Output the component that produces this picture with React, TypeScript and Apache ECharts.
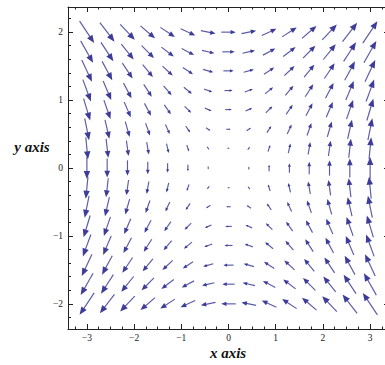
import React, { useEffect, useRef } from "react";
import * as echarts from "echarts";

// grid positions (VectorPoints 15 x 15)
const xs = [-3, -2.57, -2.14, -1.71, -1.29, -0.86, -0.43, 0, 0.43, 0.86, 1.29, 1.71, 2.14, 2.57, 3];
const ys = [-2, -1.71, -1.43, -1.14, -0.86, -0.57, -0.29, 0, 0.29, 0.57, 0.86, 1.14, 1.43, 1.71, 2];

// horizontal component of each arrow, rows from y=-2 (bottom) to y=2 (top)
const U = [
  [-2, -2, -2, -2, -2, -2, -2, -2, -2, -2, -2, -2, -2, -2, -2],
  [-1.7, -1.7, -1.7, -1.7, -1.7, -1.7, -1.7, -1.7, -1.7, -1.7, -1.7, -1.7, -1.7, -1.7, -1.7],
  [-1.4, -1.4, -1.4, -1.4, -1.4, -1.4, -1.4, -1.4, -1.4, -1.4, -1.4, -1.4, -1.4, -1.4, -1.4],
  [-1.1, -1.1, -1.1, -1.1, -1.1, -1.1, -1.1, -1.1, -1.1, -1.1, -1.1, -1.1, -1.1, -1.1, -1.1],
  [-0.9, -0.9, -0.9, -0.9, -0.9, -0.9, -0.9, -0.9, -0.9, -0.9, -0.9, -0.9, -0.9, -0.9, -0.9],
  [-0.6, -0.6, -0.6, -0.6, -0.6, -0.6, -0.6, -0.6, -0.6, -0.6, -0.6, -0.6, -0.6, -0.6, -0.6],
  [-0.3, -0.3, -0.3, -0.3, -0.3, -0.3, -0.3, -0.3, -0.3, -0.3, -0.3, -0.3, -0.3, -0.3, -0.3],
  [0, 0, 0, 0, 0, 0, 0, 0, 0, 0, 0, 0, 0, 0, 0],
  [0.3, 0.3, 0.3, 0.3, 0.3, 0.3, 0.3, 0.3, 0.3, 0.3, 0.3, 0.3, 0.3, 0.3, 0.3],
  [0.6, 0.6, 0.6, 0.6, 0.6, 0.6, 0.6, 0.6, 0.6, 0.6, 0.6, 0.6, 0.6, 0.6, 0.6],
  [0.9, 0.9, 0.9, 0.9, 0.9, 0.9, 0.9, 0.9, 0.9, 0.9, 0.9, 0.9, 0.9, 0.9, 0.9],
  [1.1, 1.1, 1.1, 1.1, 1.1, 1.1, 1.1, 1.1, 1.1, 1.1, 1.1, 1.1, 1.1, 1.1, 1.1],
  [1.4, 1.4, 1.4, 1.4, 1.4, 1.4, 1.4, 1.4, 1.4, 1.4, 1.4, 1.4, 1.4, 1.4, 1.4],
  [1.7, 1.7, 1.7, 1.7, 1.7, 1.7, 1.7, 1.7, 1.7, 1.7, 1.7, 1.7, 1.7, 1.7, 1.7],
  [2, 2, 2, 2, 2, 2, 2, 2, 2, 2, 2, 2, 2, 2, 2],
];

// vertical component of each arrow, same row order
const V = [
  [-3, -2.6, -2.1, -1.7, -1.3, -0.9, -0.4, 0, 0.4, 0.9, 1.3, 1.7, 2.1, 2.6, 3],
  [-3, -2.6, -2.1, -1.7, -1.3, -0.9, -0.4, 0, 0.4, 0.9, 1.3, 1.7, 2.1, 2.6, 3],
  [-3, -2.6, -2.1, -1.7, -1.3, -0.9, -0.4, 0, 0.4, 0.9, 1.3, 1.7, 2.1, 2.6, 3],
  [-3, -2.6, -2.1, -1.7, -1.3, -0.9, -0.4, 0, 0.4, 0.9, 1.3, 1.7, 2.1, 2.6, 3],
  [-3, -2.6, -2.1, -1.7, -1.3, -0.9, -0.4, 0, 0.4, 0.9, 1.3, 1.7, 2.1, 2.6, 3],
  [-3, -2.6, -2.1, -1.7, -1.3, -0.9, -0.4, 0, 0.4, 0.9, 1.3, 1.7, 2.1, 2.6, 3],
  [-3, -2.6, -2.1, -1.7, -1.3, -0.9, -0.4, 0, 0.4, 0.9, 1.3, 1.7, 2.1, 2.6, 3],
  [-3, -2.6, -2.1, -1.7, -1.3, -0.9, -0.4, 0, 0.4, 0.9, 1.3, 1.7, 2.1, 2.6, 3],
  [-3, -2.6, -2.1, -1.7, -1.3, -0.9, -0.4, 0, 0.4, 0.9, 1.3, 1.7, 2.1, 2.6, 3],
  [-3, -2.6, -2.1, -1.7, -1.3, -0.9, -0.4, 0, 0.4, 0.9, 1.3, 1.7, 2.1, 2.6, 3],
  [-3, -2.6, -2.1, -1.7, -1.3, -0.9, -0.4, 0, 0.4, 0.9, 1.3, 1.7, 2.1, 2.6, 3],
  [-3, -2.6, -2.1, -1.7, -1.3, -0.9, -0.4, 0, 0.4, 0.9, 1.3, 1.7, 2.1, 2.6, 3],
  [-3, -2.6, -2.1, -1.7, -1.3, -0.9, -0.4, 0, 0.4, 0.9, 1.3, 1.7, 2.1, 2.6, 3],
  [-3, -2.6, -2.1, -1.7, -1.3, -0.9, -0.4, 0, 0.4, 0.9, 1.3, 1.7, 2.1, 2.6, 3],
  [-3, -2.6, -2.1, -1.7, -1.3, -0.9, -0.4, 0, 0.4, 0.9, 1.3, 1.7, 2.1, 2.6, 3],
];

// tick values
const xMajor = [-3, -2, -1, 0, 1, 2, 3];
const xMinor = [-3.25, -2.75, -2.5, -2.25, -1.75, -1.5, -1.25, -0.75, -0.5, -0.25, 0.25, 0.5, 0.75, 1.25, 1.5, 1.75, 2.25, 2.5, 2.75, 3.25];
const yMajor = [-2, -1, 0, 1, 2];
const yMinor = [-2.2, -1.8, -1.6, -1.4, -1.2, -0.8, -0.6, -0.4, -0.2, 0.2, 0.4, 0.6, 0.8, 1.2, 1.4, 1.6, 1.8, 2.2];

const xLabel = "x axis";
const yLabel = "y axis";

export default function App() {
  const ref = useRef<HTMLDivElement>(null);

  useEffect(() => {
    if (!ref.current) return;
    const chart = echarts.init(ref.current, null, { renderer: "svg" });

    const data: number[][] = [];
    for (let j = 0; j < ys.length; j++) {
      for (let i = 0; i < xs.length; i++) {
        data.push([xs[i], ys[j], U[j][i], V[j][i]]);
      }
    }

    const frameColor = "#222";
    const fmt = (v: number) => String(v).replace("-", "\u2212");
    const labelStyle = { fontSize: 9.5, color: "#222", fontFamily: "Liberation Serif" };

    const xAx = (pos: string, ticks: number[], len: number, labels: boolean, line: boolean) => ({
      type: "value",
      min: -3.4,
      max: 3.4,
      position: pos,
      axisLine: { show: line, onZero: false, lineStyle: { color: frameColor, width: 1 } },
      axisTick: { show: true, inside: true, length: len, customValues: ticks, lineStyle: { color: frameColor, width: 1 } },
      axisLabel: labels
        ? { show: true, customValues: xMajor, formatter: fmt, margin: 4, ...labelStyle }
        : { show: false },
      splitLine: { show: false },
    });
    const yAx = (pos: string, ticks: number[], len: number, labels: boolean, line: boolean) => ({
      type: "value",
      min: -2.37,
      max: 2.37,
      position: pos,
      axisLine: { show: line, onZero: false, lineStyle: { color: frameColor, width: 1 } },
      axisTick: { show: true, inside: true, length: len, customValues: ticks, lineStyle: { color: frameColor, width: 1 } },
      axisLabel: labels
        ? { show: true, customValues: yMajor, formatter: fmt, margin: 5, ...labelStyle }
        : { show: false },
      splitLine: { show: false },
    });

    const K = 7.3; // px per unit of vector magnitude
    const arrowColor = "#3d3d99";

    chart.setOption({
      animation: false,
      backgroundColor: "#ffffff",
      grid: { left: 68, top: 7, width: 321, height: 322, containLabel: false },
      xAxis: [
        xAx("bottom", xMajor, 5, true, true),
        xAx("bottom", xMinor, 2.5, false, false),
        xAx("top", xMajor, 5, false, true),
        xAx("top", xMinor, 2.5, false, false),
      ],
      yAxis: [
        yAx("left", yMajor, 5, true, true),
        yAx("left", yMinor, 3, false, false),
        yAx("right", yMajor, 5, false, true),
        yAx("right", yMinor, 3, false, false),
      ],
      graphic: [
        {
          type: "text",
          x: 228,
          y: 353,
          style: {
            text: xLabel,
            font: 'italic bold 15px "Liberation Serif"',
            fill: "#111",
            textAlign: "center",
            textVerticalAlign: "middle",
          },
        },
        {
          type: "text",
          x: 32,
          y: 147,
          style: {
            text: yLabel,
            font: 'italic bold 15px "Liberation Serif"',
            fill: "#111",
            textAlign: "center",
            textVerticalAlign: "middle",
          },
        },
      ],
      series: [
        {
          type: "custom",
          xAxisIndex: 0,
          yAxisIndex: 0,
          clip: false,
          data,
          renderItem: (params: any, api: any) => {
            const x = api.value(0);
            const y = api.value(1);
            const u = api.value(2);
            const v = api.value(3);
            const c = api.coord([x, y]);
            const mag = Math.sqrt(u * u + v * v);
            if (mag < 1e-6) {
              return {
                type: "circle",
                shape: { cx: c[0], cy: c[1], r: 0.4 },
                style: { fill: arrowColor, opacity: 0.5 },
              };
            }
            const L = K * mag;
            const dx = u / mag;
            const dy = -v / mag;
            const tx = c[0] - (dx * L) / 2;
            const ty = c[1] - (dy * L) / 2;
            const hx = c[0] + (dx * L) / 2;
            const hy = c[1] + (dy * L) / 2;
            const h = Math.min(0.36 * L, 8);
            const w = Math.min(0.15 * L, 3.2);
            const bx = hx - dx * h;
            const by = hy - dy * h;
            const px = -dy;
            const py = dx;
            return {
              type: "group",
              children: [
                {
                  type: "line",
                  shape: { x1: tx, y1: ty, x2: bx + dx * h * 0.3, y2: by + dy * h * 0.3 },
                  style: { stroke: arrowColor, lineWidth: 1.15, opacity: 0.85 },
                },
                {
                  type: "polygon",
                  shape: {
                    points: [
                      [hx, hy],
                      [bx + px * w, by + py * w],
                      [bx - px * w, by - py * w],
                    ],
                  },
                  style: { fill: arrowColor },
                },
              ],
            };
          },
        },
      ],
    });

    return () => chart.dispose();
  }, []);

  return (
    <div style={{ position: "absolute", left: 0, top: 0, width: 385, height: 365, overflow: "hidden" }}>
      <div ref={ref} style={{ width: 400, height: 365 }} />
    </div>
  );
}
